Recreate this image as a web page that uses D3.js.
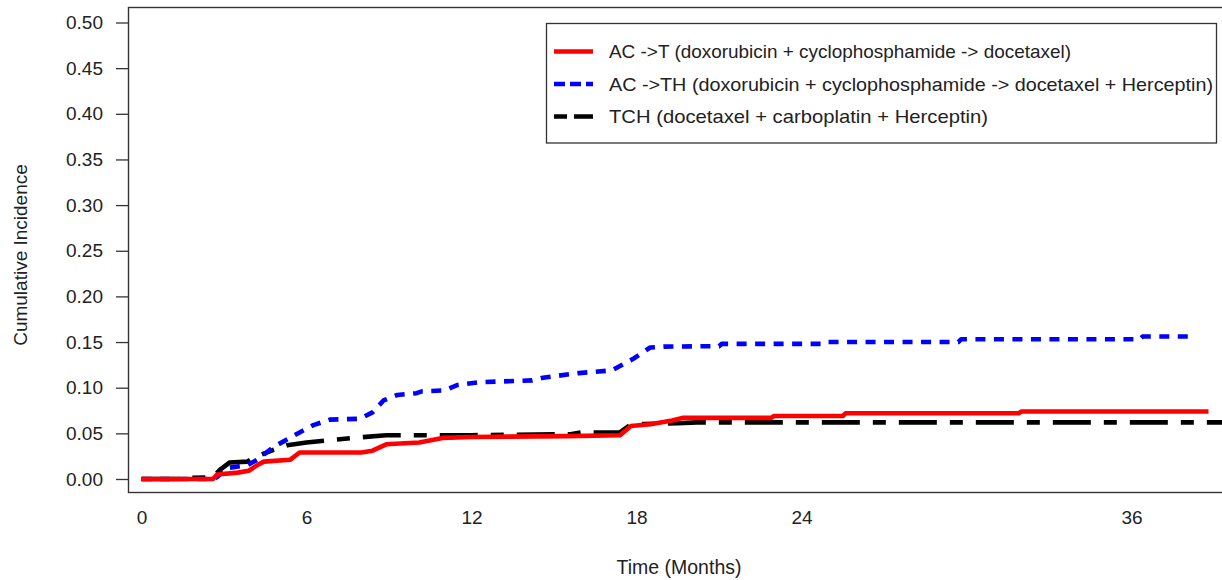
<!DOCTYPE html>
<html>
<head>
<meta charset="utf-8">
<script src="https://cdn.jsdelivr.net/npm/d3@7"></script>
<style>
  html, body { margin: 0; padding: 0; background: #fff; }
  svg { display: block; font-family: "Liberation Sans", Arial, sans-serif; }
</style>
</head>
<body>
<svg id="chart" width="1222" height="580"></svg>
<script>
// Cumulative incidence by regimen: [time in months, cumulative incidence]
const acT = [
  [0, 0], [2.6, 0], [2.75, 0.005], [3.5, 0.007], [3.9, 0.009], [4.2, 0.015],
  [4.45, 0.019], [5.4, 0.021], [5.75, 0.029], [8.0, 0.029], [8.4, 0.031],
  [8.9, 0.038], [10.1, 0.040], [10.95, 0.045], [12.0, 0.046], [15.5, 0.047],
  [17.4, 0.048], [17.8, 0.058], [18.5, 0.060], [19.3, 0.064], [19.7, 0.067],
  [22.9, 0.067], [23.0, 0.069], [25.5, 0.069], [25.6, 0.072], [31.9, 0.072],
  [32.0, 0.074], [38.8, 0.074]
];
const acTH = [
  [0, 0], [2.6, 0], [2.75, 0.002], [3.1, 0.012], [3.85, 0.015], [4.2, 0.021],
  [4.8, 0.035], [5.75, 0.051], [6.25, 0.059], [6.85, 0.065], [7.95, 0.066],
  [8.4, 0.073], [8.8, 0.086], [9.3, 0.092], [10.0, 0.094], [10.2, 0.096],
  [11.0, 0.097], [11.5, 0.103], [12.3, 0.106], [14.2, 0.108], [14.6, 0.111],
  [15.9, 0.116], [17.1, 0.119], [17.9, 0.132], [18.5, 0.144], [19.0, 0.145],
  [21.0, 0.1455], [21.1, 0.148], [24.7, 0.148], [24.8, 0.150], [29.7, 0.150],
  [29.8, 0.153], [36.3, 0.153], [36.4, 0.156], [38.2, 0.156]
];
const tch = [
  [0, 0], [1.5, 0], [1.6, 0.001], [2.6, 0.002], [2.85, 0.010], [3.2, 0.018],
  [3.85, 0.019], [4.05, 0.023], [4.8, 0.032], [5.3, 0.037], [6.0, 0.040],
  [7.7, 0.045], [8.9, 0.048], [12.0, 0.048], [15.6, 0.049], [16.0, 0.051],
  [17.4, 0.051], [17.8, 0.060], [19.5, 0.061], [20.2, 0.062], [39.5, 0.062]
];

const seriesNames = [
  "AC ->T (doxorubicin + cyclophosphamide -> docetaxel)",
  "AC ->TH (doxorubicin + cyclophosphamide -> docetaxel + Herceptin)",
  "TCH (docetaxel + carboplatin + Herceptin)"
];
const xTicks = [0, 6, 12, 18, 24, 36];
const yTicks = [0, 0.05, 0.10, 0.15, 0.20, 0.25, 0.30, 0.35, 0.40, 0.45, 0.50];

const svg = d3.select("#chart");

const x = d3.scaleLinear().domain([0, 36]).range([141.5, 1131.5]);
const y = d3.scaleLinear().domain([0, 0.5]).range([479, 22.5]);

const box = { left: 128.5, top: 7.5, bottom: 492.5, right: 1240 };

// clip for the plotting region
svg.append("defs").append("clipPath").attr("id", "plotClip")
  .append("rect")
  .attr("x", box.left).attr("y", box.top)
  .attr("width", box.right - box.left).attr("height", box.bottom - box.top);

// Y axis: outward ticks, no domain line (the frame provides it)
const yAxis = svg.append("g")
  .attr("transform", `translate(${box.left},0)`)
  .call(d3.axisLeft(y).tickValues(yTicks).tickFormat(d3.format(".2f"))
        .tickSize(12.5).tickPadding(13));
yAxis.select(".domain").remove();
yAxis.selectAll(".tick line").attr("stroke", "#333").attr("stroke-width", 1.3);
yAxis.selectAll(".tick text")
  .attr("font-size", 19).attr("fill", "#222")
  .attr("font-family", "Liberation Sans, Arial, sans-serif");

// X axis: labels only
const xAxis = svg.append("g")
  .attr("transform", `translate(0,${box.bottom})`)
  .call(d3.axisBottom(x).tickValues(xTicks).tickFormat(d3.format("d"))
        .tickSize(0).tickPadding(18));
xAxis.select(".domain").remove();
xAxis.selectAll(".tick text")
  .attr("font-size", 19).attr("fill", "#222")
  .attr("font-family", "Liberation Sans, Arial, sans-serif");

// Axis titles
svg.append("text")
  .attr("x", 679).attr("y", 574)
  .attr("text-anchor", "middle")
  .attr("font-size", 19.5).attr("fill", "#222")
  .text("Time (Months)");
svg.append("text")
  .attr("transform", "translate(27,255) rotate(-90)")
  .attr("text-anchor", "middle")
  .attr("font-size", 19).attr("fill", "#222")
  .text("Cumulative Incidence");

// Series lines
const line = d3.line().x(d => x(d[0])).y(d => y(d[1])).curve(d3.curveLinear);
const styles = [
  { data: acT,  color: "#ff0000", dash: null,             legendDash: null },
  { data: acTH, color: "#0000ff", dash: "10,8.5",         legendDash: "11,5" },
  { data: tch,  color: "#000000", dash: "38,13,13,13",    legendDash: "13,7,20,7" }
];

const plot = svg.append("g").attr("clip-path", "url(#plotClip)");
// black first, then blue, then red on top
[2, 1, 0].forEach(i => {
  const s = styles[i];
  plot.append("path")
    .attr("d", line(s.data))
    .attr("fill", "none")
    .attr("stroke", s.color)
    .attr("stroke-width", 4.6)
    .attr("stroke-linejoin", "round")
    .attr("stroke-dasharray", s.dash);
});

// Plot frame
svg.append("rect")
  .attr("x", box.left).attr("y", box.top)
  .attr("width", box.right - box.left).attr("height", box.bottom - box.top)
  .attr("fill", "none").attr("stroke", "#333").attr("stroke-width", 1.4);

// Legend
const legend = svg.append("g");
legend.append("rect")
  .attr("x", 546.5).attr("y", 23.5).attr("width", 670).attr("height", 119.5)
  .attr("fill", "#fff").attr("stroke", "#333").attr("stroke-width", 1.3);
const rowY = [51.5, 84, 116.5];
const rowTextWidth = [462, 604, 379];
styles.forEach((s, i) => {
  legend.append("line")
    .attr("x1", 554).attr("x2", 593)
    .attr("y1", rowY[i]).attr("y2", rowY[i])
    .attr("stroke", s.color).attr("stroke-width", 4.6)
    .attr("stroke-dasharray", s.legendDash);
  legend.append("text")
    .attr("x", 609).attr("y", rowY[i])
    .attr("dy", "0.35em")
    .attr("font-size", 19).attr("fill", "#222")
    .attr("textLength", rowTextWidth[i])
    .attr("lengthAdjust", "spacingAndGlyphs")
    .text(seriesNames[i]);
});
</script>
</body>
</html>
